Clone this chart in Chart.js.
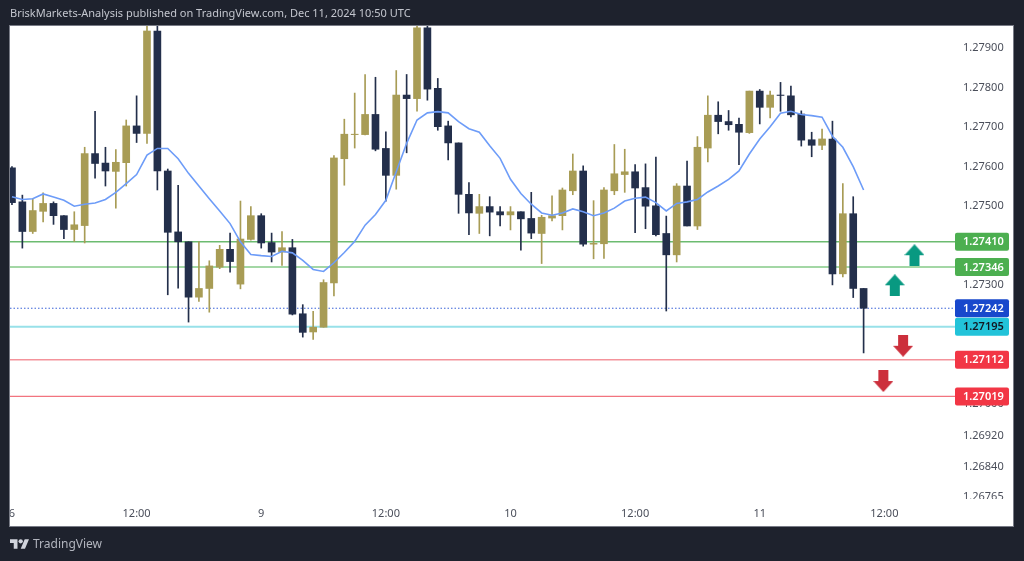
<!DOCTYPE html>
<html>
<head>
<meta charset="utf-8">
<title>GBPUSD 1H</title>
<script src="https://cdn.jsdelivr.net/npm/chart.js@4/dist/chart.umd.min.js"></script>
<style>
  html, body { margin: 0; padding: 0; background: #1e222d; }
  #wrap { position: relative; width: 1024px; height: 561px; overflow: hidden; }
  #header { position: absolute; left: 10px; top: 5px; font: 11px "Noto Sans", sans-serif; color: #c3c6ce; white-space: nowrap; }
  #brand { position: absolute; left: 10px; top: 535px; display: flex; align-items: center; font: 12px "Noto Sans", sans-serif; color: #b2b5be; }
  #brand svg { margin-right: 4px; }
</style>
</head>
<body>
<div id="wrap">
  <canvas id="chart" width="1024" height="561"></canvas>
  <div id="header">BriskMarkets-Analysis published on TradingView.com, Dec 11, 2024 10:50 UTC</div>
  <div id="brand">
    <svg width="19" height="10" viewBox="0 4 35.5 18"><path fill="#d1d4dc" d="M14 22H7V11H0V4h14v18zM28 22h-8l7.5-18h8L28 22z"/><circle fill="#d1d4dc" cx="20" cy="8" r="4"/></svg>
    <span>TradingView</span>
  </div>
</div>
<script>
// Candles
const opens = [1.27597,1.27511,1.27436,1.27487,1.27507,1.27476,1.27441,1.27451,1.27633,1.27609,1.27588,1.27610,1.27703,1.27684,1.27943,1.27589,1.27435,1.27410,1.27270,1.27292,1.27346,1.27391,1.27303,1.27416,1.27476,1.27408,1.27384,1.27395,1.27228,1.27182,1.27194,1.27306,1.27620,1.27681,1.27681,1.27732,1.27646,1.27578,1.27781,1.27772,1.27951,1.27798,1.27703,1.27660,1.27530,1.27482,1.27499,1.27486,1.27478,1.27486,1.27469,1.27431,1.27470,1.27476,1.27539,1.27589,1.27404,1.27405,1.27539,1.27580,1.27587,1.27547,1.27501,1.27431,1.27377,1.27551,1.27450,1.27647,1.27730,1.27714,1.27707,1.27686,1.27791,1.27750,1.27781,1.27779,1.27733,1.27668,1.27654,1.27670,1.27329,1.27481,1.27292];
const highs = [1.27600,1.27528,1.27519,1.27534,1.27511,1.27476,1.27486,1.27649,1.27740,1.27649,1.27643,1.27718,1.27779,1.27965,1.27965,1.27594,1.27553,1.27410,1.27410,1.27362,1.27401,1.27432,1.27513,1.27499,1.27481,1.27432,1.27436,1.27416,1.27251,1.27234,1.27314,1.27628,1.27720,1.27786,1.27833,1.27826,1.27688,1.27843,1.27833,1.27965,1.27965,1.27823,1.27715,1.27660,1.27560,1.27530,1.27524,1.27499,1.27499,1.27486,1.27535,1.27477,1.27526,1.27546,1.27632,1.27602,1.27514,1.27547,1.27656,1.27644,1.27605,1.27607,1.27624,1.27475,1.27557,1.27614,1.27676,1.27779,1.27764,1.27742,1.27723,1.27791,1.27795,1.27791,1.27813,1.27804,1.27741,1.27687,1.27695,1.27715,1.27557,1.27524,1.27292];
const lows = [1.27504,1.27394,1.27431,1.27460,1.27454,1.27418,1.27411,1.27407,1.27571,1.27551,1.27495,1.27551,1.27661,1.27659,1.27541,1.27276,1.27293,1.27207,1.27259,1.27232,1.27342,1.27333,1.27291,1.27414,1.27394,1.27359,1.27350,1.27225,1.27169,1.27163,1.27194,1.27273,1.27553,1.27647,1.27680,1.27640,1.27513,1.27543,1.27635,1.27740,1.27768,1.27692,1.27617,1.27482,1.27428,1.27431,1.27425,1.27450,1.27440,1.27389,1.27418,1.27355,1.27463,1.27440,1.27529,1.27399,1.27367,1.27368,1.27529,1.27535,1.27433,1.27443,1.27425,1.27235,1.27359,1.27450,1.27441,1.27612,1.27683,1.27692,1.27605,1.27684,1.27708,1.27723,1.27740,1.27726,1.27652,1.27625,1.27643,1.27301,1.27321,1.27269,1.27129];
const closes = [1.27509,1.27436,1.27489,1.27507,1.27476,1.27441,1.27453,1.27633,1.27608,1.27589,1.27611,1.27703,1.27684,1.27943,1.27589,1.27434,1.27410,1.27270,1.27292,1.27349,1.27391,1.27360,1.27417,1.27476,1.27407,1.27384,1.27395,1.27227,1.27181,1.27194,1.27307,1.27622,1.27682,1.27682,1.27732,1.27644,1.27578,1.27781,1.27772,1.27951,1.27796,1.27701,1.27660,1.27530,1.27483,1.27499,1.27485,1.27478,1.27486,1.27468,1.27432,1.27472,1.27476,1.27541,1.27589,1.27404,1.27406,1.27541,1.27582,1.27587,1.27546,1.27500,1.27428,1.27377,1.27551,1.27450,1.27649,1.27730,1.27714,1.27706,1.27687,1.27791,1.27750,1.27781,1.27780,1.27731,1.27667,1.27654,1.27670,1.27329,1.27481,1.27292,1.27242];
const movingAvg = [1.27524,1.27517,1.27519,1.27531,1.27523,1.27515,1.27500,1.27505,1.27508,1.27517,1.27535,1.27557,1.27580,1.27629,1.27646,1.27646,1.27620,1.27583,1.27551,1.27519,1.27488,1.27456,1.27410,1.27378,1.27375,1.27373,1.27386,1.27382,1.27363,1.27340,1.27335,1.27357,1.27383,1.27411,1.27452,1.27479,1.27515,1.27587,1.27659,1.27718,1.27736,1.27739,1.27736,1.27714,1.27696,1.27687,1.27653,1.27621,1.27568,1.27532,1.27505,1.27483,1.27477,1.27483,1.27493,1.27486,1.27476,1.27483,1.27495,1.27513,1.27520,1.27523,1.27509,1.27488,1.27507,1.27511,1.27517,1.27536,1.27551,1.27568,1.27589,1.27632,1.27670,1.27701,1.27735,1.27740,1.27732,1.27729,1.27725,1.27677,1.27649,1.27600,1.27541];

// Axis ticks
const priceTicks = [1.279,1.278,1.277,1.276,1.275,1.273,1.27,1.2692,1.2684,1.26765];
const timeTickIndex = [0,12,24,36,48,60,72,84];
const timeTickLabels = ["6","12:00","9","12:00","10","12:00","11","12:00"];

// Horizontal price levels
const levelValues = [1.2741,1.27346,1.27242,1.27195,1.27112,1.27019];
const levelLineColors = ["#6cbb70","#a3d7a5","#3a62d8","#98e1e9","#f4939b","#f2747f"];
const levelLineWidths = [1.5,2,1,2,1.5,1.2];
const levelBoxColors = ["#4caf50","#4caf50","#1848cc","#22c3d9","#f23645","#f23645"];
const levelTextColors = ["#ffffff","#ffffff","#ffffff","#131722","#ffffff","#ffffff"];

// Arrows drawn on the chart
const upArrowX = [86.9,85];
const upArrowY = [1.27376,1.273];
const downArrowX = [85.8,83.9];
const downArrowY = [1.27147,1.27058];

const GOLD = "#a89c55";
const NAVY = "#232f4b";
const FONT = '"Noto Sans", sans-serif';

function makeArrow(color, up) {
  const c = document.createElement("canvas");
  c.width = 20;
  c.height = 22;
  const g = c.getContext("2d");
  g.fillStyle = color;
  if (!up) {
    g.translate(0, 22);
    g.scale(1, -1);
  }
  g.beginPath();
  g.moveTo(10, 0);
  g.lineTo(20, 11);
  g.lineTo(15, 11);
  g.lineTo(15, 22);
  g.lineTo(5, 22);
  g.lineTo(5, 11);
  g.lineTo(0, 11);
  g.closePath();
  g.fill();
  return c;
}

const candleColors = opens.map((o, i) => (closes[i] >= o ? GOLD : NAVY));
const X_MIN = -0.19;
const X_MAX = 90.8;

const datasets = [];

levelValues.forEach((v, i) => {
  datasets.push({
    type: "line",
    data: [{ x: X_MIN, y: v }, { x: X_MAX, y: v }],
    borderColor: levelLineColors[i],
    borderWidth: levelLineWidths[i],
    borderDash: i === 2 ? [1.5, 2] : [],
    pointRadius: 0,
    order: 5,
  });
});

datasets.push({
  type: "bar",
  data: highs.map((h, i) => ({ x: i, y: [lows[i], h] })),
  backgroundColor: candleColors,
  barThickness: 1,
  grouped: false,
  order: 4,
});
datasets.push({
  type: "bar",
  data: opens.map((o, i) => ({ x: i, y: [o, closes[i]] })),
  backgroundColor: candleColors,
  barThickness: 7,
  grouped: false,
  order: 3,
});
datasets.push({
  type: "line",
  data: movingAvg.map((v, i) => ({ x: i, y: v })),
  borderColor: "#6d9cf8",
  borderWidth: 1.6,
  pointRadius: 0,
  order: 2,
});
datasets.push({
  type: "line",
  showLine: false,
  data: upArrowX.map((x, i) => ({ x: x, y: upArrowY[i] })),
  pointStyle: makeArrow("#089981", true),
  order: 1,
});
datasets.push({
  type: "line",
  showLine: false,
  data: downArrowX.map((x, i) => ({ x: x, y: downArrowY[i] })),
  pointStyle: makeArrow("#cc2f3c", false),
  order: 1,
});

// White pane behind everything, price boxes and pane border on top
const panePlugin = {
  id: "pane",
  beforeDraw(chart) {
    const a = chart.chartArea;
    const g = chart.ctx;
    g.fillStyle = "#ffffff";
    g.fillRect(a.left, a.top, 1013 - a.left, 526 - a.top);
  },
  afterDraw(chart) {
    const a = chart.chartArea;
    const g = chart.ctx;
    const yScale = chart.scales.y;
    g.save();
    // clip the last price tick and the first time tick as the pane does
    g.fillStyle = "#ffffff";
    g.fillRect(a.right, 499, 1013 - a.right, 8);
    g.fillStyle = "#1e222d";
    g.fillRect(0, a.top, a.left, 526 - a.top);
    levelValues.forEach((v, i) => {
      const y = yScale.getPixelForValue(v);
      g.fillStyle = levelBoxColors[i];
      g.beginPath();
      g.roundRect(a.right, y - 9, 54, 18, 2);
      g.fill();
      g.fillStyle = levelTextColors[i];
      g.font = "600 11px " + FONT;
      g.textAlign = "left";
      g.textBaseline = "middle";
      g.fillText(v.toFixed(5), a.right + 8, y + 0.5);
    });
    g.strokeStyle = "#787b86";
    g.lineWidth = 1;
    g.strokeRect(a.left - 0.5, a.top - 0.5, 1013 - a.left + 1, 526 - a.top + 1);
    g.restore();
  },
};

new Chart(document.getElementById("chart"), {
  data: { datasets },
  plugins: [panePlugin],
  options: {
    responsive: false,
    animation: false,
    events: [],
    layout: { padding: { left: 10, top: 26, right: 11, bottom: 35 } },
    plugins: { legend: { display: false }, tooltip: { enabled: false } },
    scales: {
      x: {
        type: "linear",
        min: X_MIN,
        max: X_MAX,
        offset: false,
        grid: { display: false, drawTicks: false },
        border: { display: false },
        afterBuildTicks(axis) {
          axis.ticks = timeTickIndex.map((v) => ({ value: v }));
        },
        afterFit(axis) {
          axis.height = 21;
        },
        ticks: {
          autoSkip: false,
          maxRotation: 0,
          padding: 2,
          color: "#4a4e5a",
          font: { family: "Noto Sans", size: 11 },
          callback: (value) => timeTickLabels[timeTickIndex.indexOf(value)],
        },
      },
      y: {
        position: "right",
        min: 1.267445,
        max: 1.279556,
        grid: { display: false, drawTicks: false },
        border: { display: false },
        afterBuildTicks(axis) {
          axis.ticks = priceTicks.map((v) => ({ value: v }));
        },
        afterFit(axis) {
          axis.width = 58;
        },
        ticks: {
          autoSkip: false,
          padding: 8,
          color: "#4a4e5a",
          font: { family: "Noto Sans", size: 11 },
          callback: (value) => value.toFixed(5),
        },
      },
    },
  },
});
</script>
</body>
</html>
